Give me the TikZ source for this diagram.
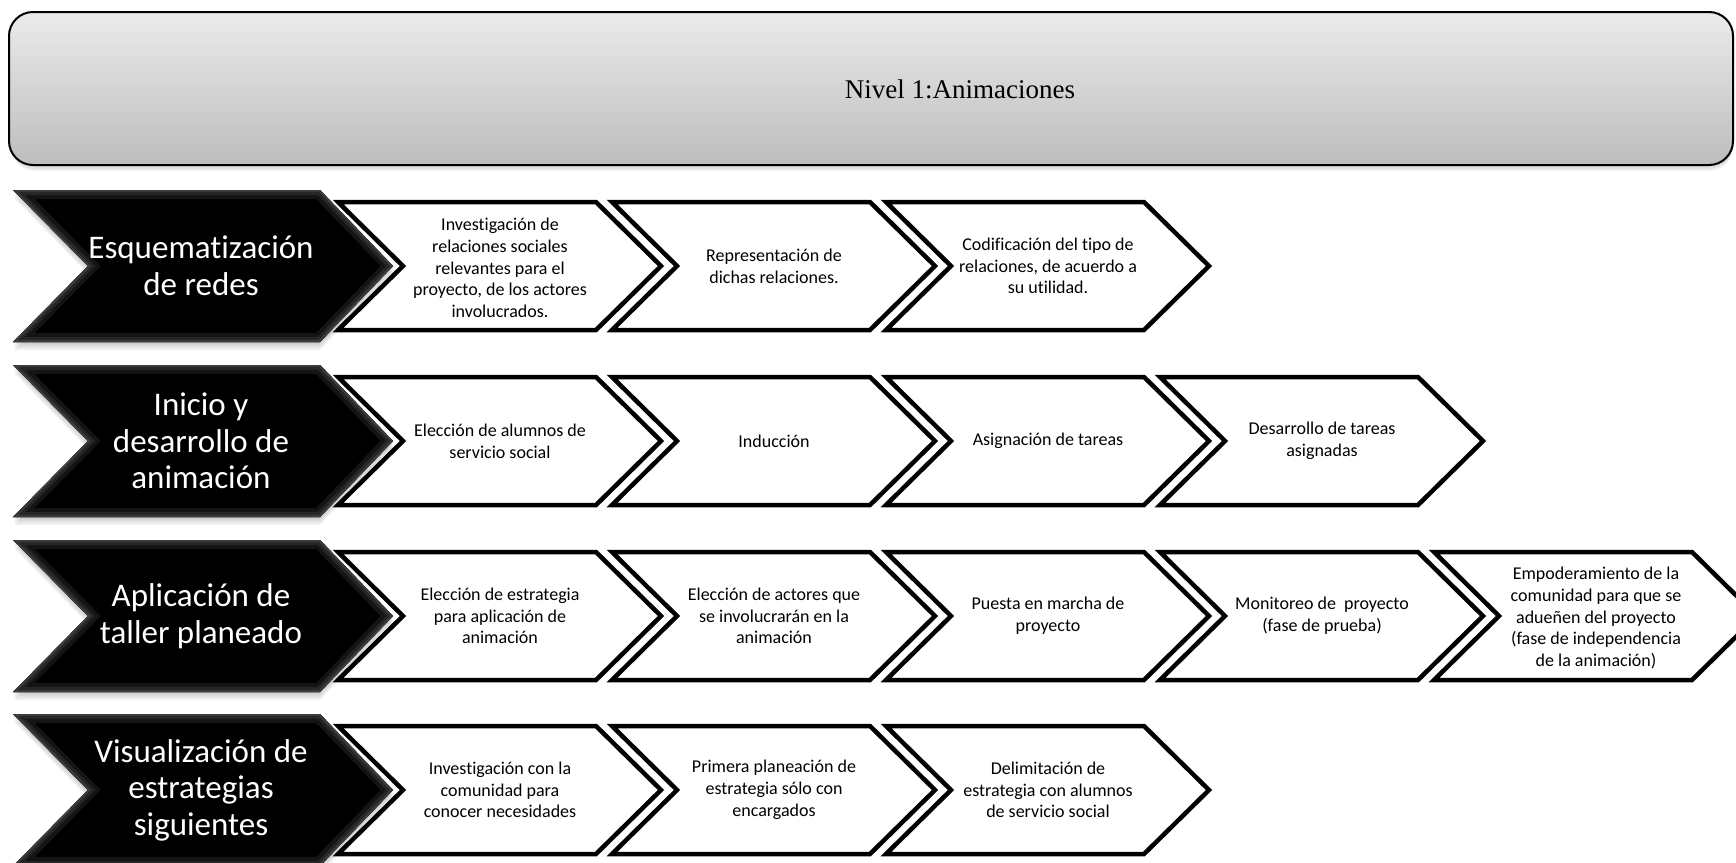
\documentclass[tikz,border=0pt]{standalone}
\usepackage{fontspec}
\setmainfont{Carlito}[Ligatures=NoCommon]
\newfontfamily\titlefont{Liberation Serif}
\definecolor{bevA}{HTML}{141414}
\definecolor{bevB}{HTML}{262626}
\definecolor{bevC}{HTML}{3C3C3C}
\definecolor{boxtop}{HTML}{EBEBEB}
\definecolor{boxbot}{HTML}{BDBDBD}
\tikzset{
  wchev/.style={draw=black, line width=4.5pt, fill=white, line join=miter},
  wtext/.style={align=center, font=\fontsize{18}{21.8}\selectfont, inner sep=0pt},
  btext/.style={align=center, text=white, font=\fontsize{33}{36.5}\selectfont, inner sep=0pt},
  titletext/.style={font=\titlefont\fontsize{27}{31}\selectfont, inner sep=0pt},
}
% black chevron path, #1 = centre y
\def\bpath#1{(13,#1-76) -- (320,#1-76) -- (393,#1) -- (320,#1+76) -- (13,#1+76) -- (88,#1) -- cycle}
\newcommand\bchev[3]{% name, yc, text
  \foreach \k in {2,4,6,8}{\fill[black,opacity=0.05] (14,#2-76+\k) -- (320,#2-76+\k) -- (393,#2+\k) -- (320,#2+76+\k) -- (14,#2+76+\k) -- (88,#2+\k) -- cycle;}
  \begin{scope}
    \clip \bpath{#2};
    \fill[black] (0,#2-80) rectangle (400,#2+80);
    \draw[line width=18pt, bevA] \bpath{#2};
    \draw[line width=10pt, bevB] \bpath{#2};
    \draw[line width=4pt, bevC] \bpath{#2};
  \end{scope}
  \node[btext] (#1) at (201,#2) {#3};
}
\newcommand\wchev[5]{% name, x0, yc, text, text dy
  \draw[wchev] (#2,#3-64) -- (#2+258,#3-64) -- (#2+323,#3) -- (#2+258,#3+64) -- (#2,#3+64) -- (#2+65,#3) -- cycle;
  \node[wtext] (#1) at (#2+162,#3+#5) {#4};
}
\begin{document}
\begin{tikzpicture}[x=1pt,y=-1pt]
\useasboundingbox (0,0) rectangle (1736,862);
\clip (0,0) rectangle (1736,862);
% title box
\foreach \k in {2,4,6}{\fill[black,opacity=0.06,rounded corners=24pt] (11,12+\k) rectangle (1733,165+\k);}
\draw[line width=2pt, rounded corners=24pt, top color=boxtop, bottom color=boxbot] (9,12) rectangle (1733,165);
\node[titletext] (title) at (960,89) {Nivel 1:Animaciones};

% row 1
\bchev{b1}{266}{Esquematización\\de redes}
\wchev{r1a}{338}{266}{Investigación de\\relaciones sociales\\relevantes para el\\proyecto, de los actores\\involucrados.}{2}
\wchev{r1b}{612}{266}{Representación de\\dichas relaciones.}{0}
\wchev{r1c}{886}{266}{Codificación del tipo de\\relaciones, de acuerdo a\\su utilidad.}{0}

% row 2
\bchev{b2}{441}{Inicio y\\desarrollo de\\animación}
\wchev{r2a}{338}{441}{Elección de alumnos de\\servicio social}{0}
\wchev{r2b}{612}{441}{Inducción}{0}
\wchev{r2c}{886}{441}{Asignación de tareas}{0}
\wchev{r2d}{1160}{441}{Desarrollo de tareas\\asignadas}{0}

% row 3
\bchev{b3}{616}{Aplicación de\\taller planeado}
\wchev{r3a}{338}{616}{Elección de estrategia\\para aplicación de\\animación}{0}
\wchev{r3b}{612}{616}{Elección de actores que\\se involucrarán en la\\animación}{0}
\wchev{r3c}{886}{616}{Puesta en marcha de\\proyecto}{0}
\wchev{r3d}{1160}{616}{Monitoreo de~ proyecto\\(fase de prueba)}{0}
\wchev{r3e}{1434}{616}{Empoderamiento de la\\comunidad para que se\\adueñen del proyecto\\(fase de independencia\\de la animación)}{2}

% row 4
\bchev{b4}{790}{Visualización de\\estrategias\\siguientes}
\wchev{r4a}{338}{790}{Investigación con la\\comunidad para\\conocer necesidades}{0}
\wchev{r4b}{612}{790}{Primera planeación de\\estrategia sólo con\\encargados}{0}
\wchev{r4c}{886}{790}{Delimitación de\\estrategia con alumnos\\de servicio social}{0}
\end{tikzpicture}
\end{document}
